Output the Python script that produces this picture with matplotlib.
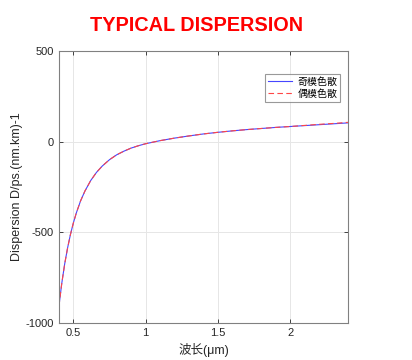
import numpy as np
import matplotlib
matplotlib.use('Agg')
import matplotlib.pyplot as plt

# wavelength (um) and dispersion values
wl = [0.40, 0.42, 0.44, 0.46, 0.48, 0.50, 0.52, 0.55, 0.58, 0.62, 0.66,
      0.70, 0.75, 0.80, 0.85, 0.90, 0.95, 1.00, 1.10, 1.20, 1.30, 1.40,
      1.50, 1.60, 1.70, 1.80, 1.90, 2.00, 2.10, 2.20, 2.30, 2.40]
d_odd = [-908, -780, -674, -586, -511, -448, -394, -326, -272, -214, -169,
         -134, -99, -72, -52, -35, -22, -11, 6, 20, 32, 43,
         52, 60, 67, 73, 79, 84, 89, 94, 99, 104]
d_even = [-908, -780, -674, -586, -511, -448, -394, -326, -272, -214, -169,
          -134, -99, -72, -52, -35, -22, -11, 6, 20, 32, 43,
          52, 60, 67, 73, 79, 84, 90, 96, 101, 107]

xticks = [0.5, 1, 1.5, 2]
yticks = [-1000, -500, 0, 500]

fam = ['Liberation Sans', 'Noto Sans CJK SC']
plt.rcParams['font.family'] = fam
plt.rcParams['axes.unicode_minus'] = False

fig = plt.figure(figsize=(4.12, 3.6), dpi=100)
ax = fig.add_axes([0.143, 0.103, 0.702, 0.755])

ax.plot(wl, d_odd, color='#4646ff', lw=0.8, label='奇模色散')
ax.plot(wl, d_even, color='#ff4646', lw=0.8, ls=(0, (5, 3)), label='偶模色散')

ax.set_xlim(0.4, 2.4)
ax.set_ylim(-1000, 500)
ax.set_xticks(xticks)
ax.set_xticklabels(['0.5', '1', '1.5', '2'])
ax.set_yticks(yticks)
ax.grid(True, color='#e6e6e6', lw=0.7)
ax.tick_params(direction='in', top=True, right=True, labelsize=8,
               colors='#262626', length=3, width=0.6)
for s in ax.spines.values():
    s.set_color('#808080')
    s.set_linewidth(0.8)

ax.set_xlabel('波长(μm)', fontsize=9, color='#262626', labelpad=4)
ax.set_ylabel('Dispersion D/ps.(nm.km)-1', fontsize=9, color='#262626', labelpad=2)

leg = ax.legend(loc='upper right', bbox_to_anchor=(0.99, 0.935), fontsize=7.2,
                handlelength=2.4, frameon=True, fancybox=False,
                borderpad=0.3, labelspacing=0.2, handletextpad=0.5)
leg.get_frame().set_edgecolor('#808080')
leg.get_frame().set_linewidth(0.8)

fig.text(0.478, 0.93, 'TYPICAL DISPERSION', color='#ff0000', fontsize=14.3,
         fontweight='bold', ha='center', va='center')

fig.savefig('out.png', dpi=100)
